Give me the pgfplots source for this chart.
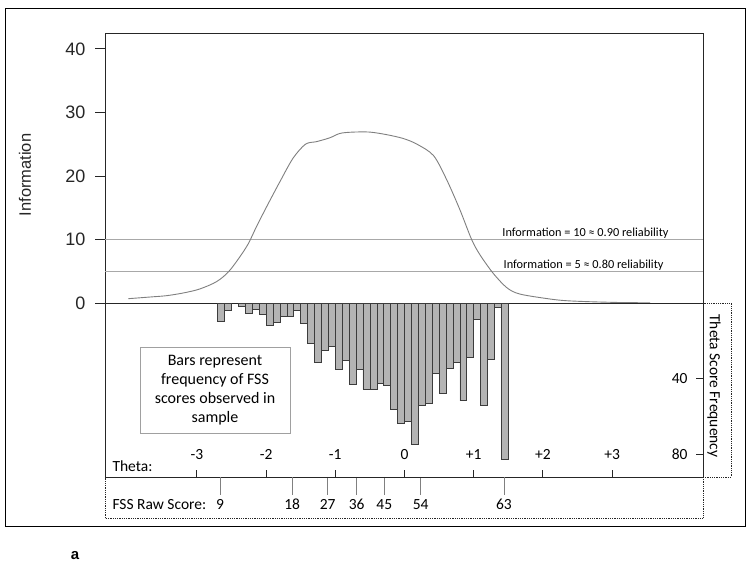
\documentclass[border=0pt]{standalone}
\usepackage{pgfplots}
\pgfplotsset{compat=1.18}
\usepackage{fontspec}
\setmainfont{Carlito}
\newfontfamily\arial{Liberation Sans}

\definecolor{barfill}{HTML}{B4B4B4}
\definecolor{baredge}{HTML}{3C3C3C}
\definecolor{curvecol}{HTML}{7F7F7F}
\definecolor{refline}{HTML}{A8A8A8}
\definecolor{framecol}{HTML}{262626}
\definecolor{boxgray}{HTML}{A0A0A0}

\begin{document}
\begin{tikzpicture}[x=1pt,y=1pt]
\path[use as bounding box] (0,0) rectangle (750,567);
\draw[black, line width=0.8pt] (5,41) rectangle (745,559);

% upper panel: test information
\begin{axis}[
    at={(105pt,264pt)}, anchor=south west,
    scale only axis, width=598pt, height=270pt,
    xmin=-4.328, xmax=4.314, ymin=0, ymax=42.5,
    xtick=\empty,
    ytick={0,10,20,30,40},
    yticklabels={0,10,20,30,40},
    ytick pos=left, tick align=outside,
    major tick length=10pt,
    tick style={framecol, line width=0.8pt},
    axis line style={framecol, line width=0.9pt},
    yticklabel style={font=\arial\fontsize{18}{20}\selectfont, text=black!85, xshift=-6pt},
]
\addplot[refline, line width=0.7pt] coordinates {(-4.328,10) (4.314,10)};
\addplot[refline, line width=0.7pt] coordinates {(-4.328,5) (4.314,5)};
\addplot[curvecol, line width=0.9pt, smooth, tension=0.5] coordinates {
(-3.99,0.68) (-3.68,0.94) (-3.44,1.15) (-3.20,1.57) (-2.96,2.2)
(-2.71,3.4) (-2.52,5.2) (-2.28,8.9) (-2.14,12.0) (-1.99,15.2)
(-1.80,19.1) (-1.61,22.8) (-1.43,25.0) (-1.27,25.4) (-1.08,26.0)
(-0.93,26.7) (-0.74,26.9) (-0.50,26.9) (-0.26,26.5) (-0.02,25.9)
(0.18,25.0) (0.42,23.2) (0.61,19.4) (0.80,14.7) (0.97,10.0)
(1.09,7.6) (1.28,4.7) (1.48,2.4) (1.67,1.4) (2.10,0.63)
(2.34,0.36) (2.68,0.2) (3.10,0.08) (3.55,0.03)
};
\end{axis}

% lower panel: theta score frequency
\begin{axis}[
    at={(105pt,90pt)}, anchor=south west,
    scale only axis, width=598pt, height=174pt,
    xmin=-4.328, xmax=4.314, ymin=0, ymax=92,
    y dir=reverse,
    xtick={-3,-2,-1,0,1,2,3},
    xticklabels={-3,-2,-1,0,+1,+2,+3},
    xtick pos=left, xticklabel pos=left,
    ytick={40,80}, yticklabels={40,80},
    ytick pos=right, yticklabel pos=right,
    tick align=inside, major tick length=7pt,
    tick style={framecol, line width=0.8pt},
    axis line style={framecol, line width=0.9pt},
    xticklabel style={font=\fontsize{15.5}{18}\selectfont, anchor=base, yshift=17pt},
    yticklabel style={font=\fontsize{15.5}{18}\selectfont, anchor=east, xshift=-12pt},
]
\addplot[ybar, bar width=0.1, fill=barfill, draw=baredge, line width=0.6pt] coordinates {
(-2.65,9.5) (-2.55,4.0) (-2.35,1.6) (-2.25,5.7) (-2.15,3.3)
(-2.05,6.2) (-1.95,11.8) (-1.85,10.2) (-1.75,7.0) (-1.65,7.0)
(-1.55,4.0) (-1.45,10.8) (-1.35,21.5) (-1.25,31.4) (-1.15,25.1)
(-1.05,22.8) (-0.95,34.8) (-0.85,30.4) (-0.75,43.0) (-0.65,35.0)
(-0.55,45.7) (-0.45,45.7) (-0.35,42.3) (-0.25,43.3) (-0.15,56.2)
(-0.05,63.8) (0.05,62.8) (0.15,74.8) (0.25,54.0) (0.35,52.9)
(0.45,37.0) (0.55,47.8) (0.65,34.6) (0.75,31.4) (0.85,51.7)
(0.95,28.7) (1.05,8.5) (1.15,54.0) (1.25,30.0) (1.35,2.2)
(1.45,82.9)
};
\end{axis}

% raw score strip
\begin{axis}[
    at={(105pt,49pt)}, anchor=south west,
    scale only axis, width=598pt, height=41pt,
    xmin=-4.328, xmax=4.314, ymin=0, ymax=1,
    ytick=\empty,
    xtick={-2.666,-1.623,-1.110,-0.691,-0.292,0.234,1.438},
    xticklabels={9,18,27,36,45,54,63},
    xtick pos=right, xticklabel pos=left,
    tick align=inside, major tick length=18pt,
    tick style={gray, line width=0.6pt},
    axis line style={framecol, densely dotted, line width=0.8pt},
    xticklabel style={font=\fontsize{15.5}{18}\selectfont, anchor=base, yshift=8pt},
]
\end{axis}

\draw[framecol, densely dotted, line width=0.8pt] (703,90) rectangle (731,264);
\node[rotate=-90, font=\fontsize{15.5}{18}\selectfont] at (714,181) {Theta Score Frequency};

\node[rotate=90, font=\arial\fontsize{16.5}{19}\selectfont, text=black!85] at (25,392) {Information};

\node[anchor=base east, font=\fontsize{12.3}{14}\selectfont] at (672,330) {Information = 10 ≈ 0.90 reliability};
\node[anchor=base east, font=\fontsize{12.3}{14}\selectfont] at (667,298) {Information = 5 ≈ 0.80 reliability};

\node[draw=boxgray, line width=0.7pt, align=center, minimum width=150pt, minimum height=86pt,
      font=\fontsize{16}{19}\selectfont] at (215,177) {Bars represent\\frequency of FSS\\scores observed in\\sample};

\node[anchor=base west, font=\fontsize{15.5}{18}\selectfont] at (109,95) {Theta:};
\node[anchor=base west, font=\fontsize{15.5}{18}\selectfont] at (109,57) {FSS Raw Score:};

\node[font=\arial\bfseries\fontsize{15}{17}\selectfont] at (75,11) {a};
\end{tikzpicture}
\end{document}
